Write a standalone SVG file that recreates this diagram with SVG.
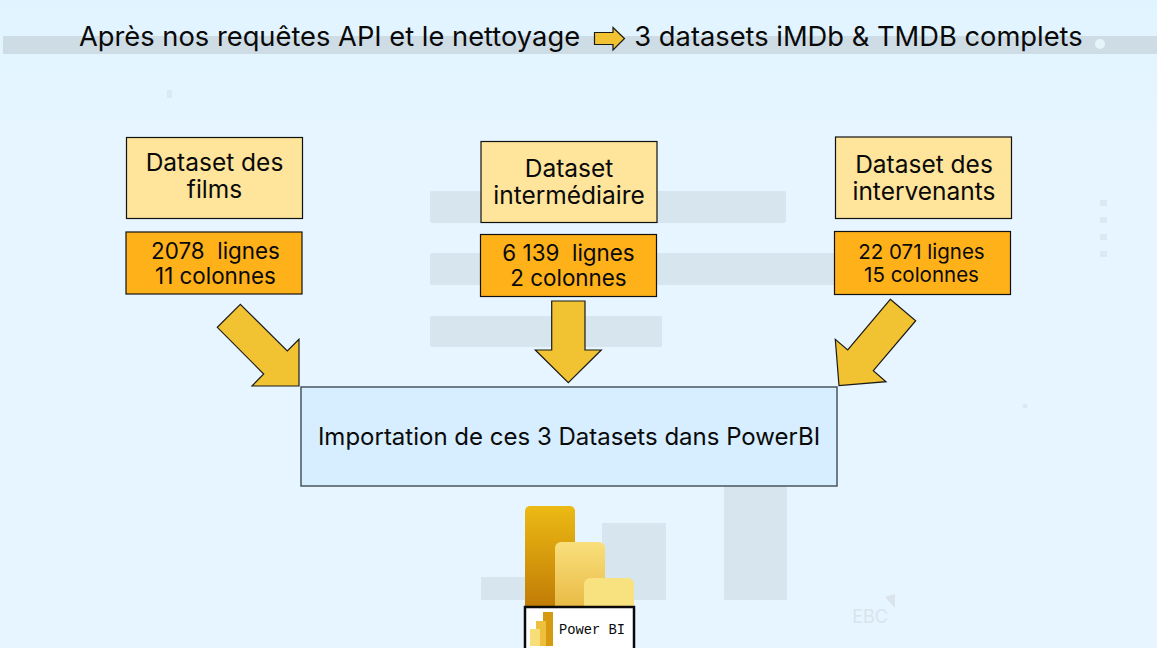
<svg xmlns="http://www.w3.org/2000/svg" width="1157" height="648" viewBox="0 0 1157 648">
<defs>
<style>
text{font-family:"Inter","Open Sans","Liberation Sans",sans-serif;fill:#0a0a0a;text-anchor:middle;white-space:pre}
.ghost{fill:#d7e5ee}
.dot{fill:#dde9f1}
.name{fill:#ffe49b;stroke:#111;stroke-width:1.2}
.stat{fill:#ffb11a;stroke:#111;stroke-width:1.2}
.main{fill:#d6eeff;stroke:#3f4a52;stroke-width:1.4}
.arrow{fill:#f1c232;stroke:#1a1a1a;stroke-width:1.2;stroke-linejoin:miter}
.l{font-size:24.500px}
.s{font-size:22.400px}
.t{font-size:20.500px}
.h{font-size:27.300px}
</style>
<linearGradient id="g1" x1="0" y1="0" x2="0" y2="1"><stop offset="0" stop-color="#ecba14"/><stop offset="1" stop-color="#bd7604"/></linearGradient>
<linearGradient id="g2" x1="0" y1="0" x2="0" y2="1"><stop offset="0" stop-color="#f9df7c"/><stop offset="1" stop-color="#e5b238"/></linearGradient>
<linearGradient id="bg" x1="0" y1="0" x2="0" y2="1"><stop offset="0" stop-color="#e0f4ff"/><stop offset="0.2" stop-color="#e6f5ff"/><stop offset="1" stop-color="#e6f5ff"/></linearGradient>
</defs>
<g id="background">
<rect width="1157" height="648" fill="url(#bg)"/>
<rect x="3" y="36" width="1154" height="18" fill="#cedce5"/>
<circle cx="1100" cy="44" r="5" fill="#e6f3fa"/>
<rect class="ghost" x="430" y="191" width="356" height="32" rx="2"/>
<rect class="ghost" x="430" y="253" width="405" height="32" rx="2"/>
<rect class="ghost" x="430" y="316" width="232" height="31" rx="2"/>
<rect class="ghost" x="602" y="523" width="64" height="77" rx="1"/>
<rect class="ghost" x="724" y="486" width="63" height="114" rx="1"/>
<rect class="ghost" x="481" y="577" width="60" height="23" rx="1"/>
<rect class="dot" x="167" y="90" width="5" height="8"/>
<rect class="dot" x="1100" y="200" width="7" height="6"/>
<rect class="dot" x="1100" y="217" width="7" height="6"/>
<rect class="dot" x="1100" y="234" width="7" height="6"/>
<rect class="dot" x="1100" y="251" width="7" height="6"/>
<circle class="dot" cx="1025" cy="406" r="2.500"/>
<text x="870" y="623" style="font-size:18px;fill:#d9e4ec">EBC</text>
<path d="M885 597L895 594L895 608Z" fill="#d9e4ec"/>
</g>
<g id="title">
<text class="h" x="329.500" y="46">Après nos requêtes API et le nettoyage</text>
<text class="h" x="858.500" y="46">3 datasets iMDb &amp; TMDB complets</text>
<path class="arrow" d="M594.500 32.500H613V27.500L624.500 38.500L613 50V44.500H594.500Z"/>
</g>
<g id="connectors">
<path class="arrow" d="M240.300 304.300L217.300 327.300L263.700 374L252 386H299V339.300L287.300 351Z"/>
<path class="arrow" d="M551.700 301H585V350H601.300L568.300 382.700L535.300 350H551.700Z"/>
<path class="arrow" d="M890.300 299.300L915.700 320.700L873.300 370.700L886 381.700L839 385.700L835.300 339.300L847.700 350Z"/>
</g>
<g id="node-films">
<rect class="name" x="126.500" y="137.500" width="176" height="81"/>
<text class="l" y="171"><tspan x="214.500">Dataset des</tspan><tspan x="214.500" dy="27">films</tspan></text>
</g>
<g id="stats-films">
<rect class="stat" x="126" y="232" width="176" height="62"/>
<text class="s" y="259"><tspan x="215.500">2078  lignes</tspan><tspan x="215.500" dy="25">11 colonnes</tspan></text>
</g>
<g id="node-intermediaire">
<rect class="name" x="481" y="141.500" width="176" height="81"/>
<text class="l" y="177"><tspan x="569">Dataset</tspan><tspan x="569" dy="27">intermédiaire</tspan></text>
</g>
<g id="stats-intermediaire">
<rect class="stat" x="480.500" y="234.500" width="176" height="62"/>
<text class="s" y="261"><tspan x="568.500">6 139  lignes</tspan><tspan x="568.500" dy="25">2 colonnes</tspan></text>
</g>
<g id="node-intervenants">
<rect class="name" x="835.500" y="137" width="176" height="81.500"/>
<text class="l" y="173"><tspan x="924">Dataset des</tspan><tspan x="924" dy="27">intervenants</tspan></text>
</g>
<g id="stats-intervenants">
<rect class="stat" x="834.500" y="231.500" width="176" height="63"/>
<text class="t" y="259"><tspan x="921.500">22 071 lignes</tspan><tspan x="921.500" dy="23">15 colonnes</tspan></text>
</g>
<g id="node-import">
<rect class="main" x="301" y="387" width="536" height="99"/>
<text x="569" y="445" style="font-size:24px">Importation de ces 3 Datasets dans PowerBI</text>
</g>
<g id="logo-powerbi">
<rect x="525" y="506" width="50" height="110" rx="5" fill="url(#g1)"/>
<rect x="555" y="542" width="50" height="80" rx="6" fill="url(#g2)"/>
<rect x="584" y="578" width="50" height="40" rx="6" fill="#f8e17f"/>
<rect x="525" y="607" width="109" height="44" fill="#fff" stroke="#0a0a0a" stroke-width="2.500"/>
<rect x="543" y="612" width="10" height="34" fill="#d69a10"/>
<rect x="536" y="621" width="10" height="25" fill="#eebf3c"/>
<rect x="530" y="629" width="10" height="17" fill="#f8de78"/>
<text x="592" y="634" style="font-family:'Liberation Mono','DejaVu Sans Mono',monospace;font-size:13.800px">Power BI</text>
</g>
</svg>
